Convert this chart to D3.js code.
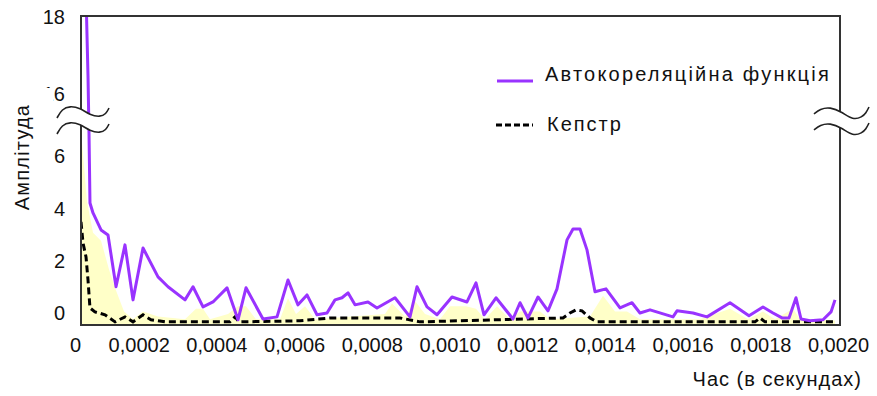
<!DOCTYPE html>
<html>
<head>
<meta charset="utf-8">
<script src="https://cdn.jsdelivr.net/npm/d3@7"></script>
<style>
  body { margin: 0; background: #fff; }
  svg text { font-family: "Liberation Sans", Arial, sans-serif; fill: #111; }
</style>
</head>
<body>
<div id="chart"></div>
<script>
// Autocorrelation function (purple line), time in seconds
var acfTime = [0.0000644, 0.0000695, 0.0000721, 0.0000746, 0.0000824, 0.000103, 0.000121, 0.0001416,
  0.0001647, 0.0001853, 0.0002111, 0.0002497, 0.0002754, 0.0003192, 0.0003398, 0.0003655, 0.0003912,
  0.0004273, 0.0004556, 0.0004762, 0.0005199, 0.000556, 0.0005843, 0.00061, 0.0006332, 0.0006589,
  0.0006847, 0.0007053, 0.0007233, 0.0007387, 0.0007568, 0.0007902, 0.0008134, 0.0008597, 0.0008983,
  0.0009163, 0.0009421, 0.0009678, 0.0010064, 0.001045, 0.0010682, 0.0010888, 0.0011197, 0.0011634,
  0.0011815, 0.001202, 0.0012278, 0.0012535, 0.0012767, 0.0013025, 0.0013179, 0.0013359, 0.0013539,
  0.0013745, 0.0014028, 0.0014389, 0.0014698, 0.0014903, 0.0015161, 0.0015753, 0.0015856, 0.0016268,
  0.0016628, 0.001722, 0.0017709, 0.0018069, 0.0018327, 0.0018559, 0.0018739, 0.0018919, 0.0019048,
  0.0019279, 0.0019614, 0.001982, 0.0019923];
var acfValue = [18.6, 16.5, 7.2, 4.54, 4.16, 3.51, 3.32, 1.34,
  2.94, 0.84, 2.82, 1.72, 1.34, 0.84, 1.34, 0.57, 0.76,
  1.30, 0.08, 1.30, 0.11, 0.19, 1.60, 0.65, 1.03, 0.27,
  0.34, 0.84, 0.92, 1.11, 0.65, 0.76, 0.53, 0.92, 0.19,
  1.34, 0.57, 0.27, 0.95, 0.76, 1.49, 0.27, 0.92, 0.11,
  0.73, 0.15, 0.95, 0.42, 1.26, 3.13, 3.55, 3.55, 2.75,
  1.15, 1.26, 0.53, 0.73, 0.34, 0.46, 0.19, 0.42, 0.34,
  0.19, 0.73, 0.23, 0.57, 0.34, 0.15, 0.15, 0.92, 0.11,
  0.04, 0.08, 0.38, 0.84];

// Cepstrum (black dashed line)
var cepTime = [0.0000515, 0.0000566, 0.0000644, 0.0000695, 0.0000746, 0.0000875, 0.0001133, 0.000139,
  0.0001647, 0.0001853, 0.0002111, 0.0002317, 0.0002677, 0.000435, 0.0004479, 0.0004582, 0.0006152,
  0.0006924, 0.0008726, 0.0009241, 0.0012921, 0.0013102, 0.0013256, 0.0013411, 0.0013616, 0.0013797,
  0.0017864, 0.0017992, 0.0018121, 0.0019923];
var cepValue = [3.82, 3.02, 2.48, 1.60, 0.53, 0.38, 0.27, 0.0,
  0.19, 0.0, 0.27, 0.08, 0.0, 0.0, 0.19, 0.0, 0.04,
  0.15, 0.15, 0.0, 0.15, 0.34, 0.46, 0.42, 0.15, 0.0,
  0.0, 0.15, 0.0, 0.0];

// pale yellow background series
var fillTime = [0.0000515, 0.0000669, 0.0000824, 0.000103, 0.0001236, 0.0001416, 0.0001622, 0.0001853,
  0.0002111, 0.0002497, 0.0003192, 0.0003475, 0.0003655, 0.0003835, 0.0004299, 0.0004556, 0.0004762,
  0.0005019, 0.0005637, 0.0005843, 0.0006049, 0.0006281, 0.0006538, 0.000834, 0.000852, 0.0008855,
  0.0009112, 0.0009369, 0.0009755, 0.0010013, 0.0010425, 0.0010682, 0.0010914, 0.0011223, 0.0011557,
  0.0011815, 0.001233, 0.0012587, 0.0013616, 0.0013951, 0.001426, 0.0014569, 0.0014903, 0.0016448,
  0.001722, 0.0017683, 0.0018069, 0.0018378, 0.0018842, 0.0019022, 0.0019923];
var fillValue = [7.3, 4.6, 3.4, 3.1, 2.0, 1.2, 0.4, 0.1,
  0.4, 0.2, 0.1, 0.5, 0.5, 0.1, 0.3, 0.6, 0.6,
  0.1, 0.1, 0.9, 0.3, 0.6, 0.1, 0.3, 0.7, 0.2,
  0.8, 0.3, 0.1, 0.6, 0.6, 0.5, 0.1, 0.6, 0.1,
  0.4, 0.4, 0.1, 0.2, 1.0, 0.4, 0.4, 0.1, 0.1,
  0.5, 0.1, 0.4, 0.1, 0.5, 0.1, 0.05];

var xTicks = [0, 0.0002, 0.0004, 0.0006, 0.0008, 0.0010, 0.0012, 0.0014, 0.0016, 0.0018, 0.0020];
var yTicks = [0, 2, 4, 6, 16, 18];
var seriesNames = ["Автокореляційна функція", "Кепстр"];
var xTitle = "Час (в секундах)";
var yTitle = "Амплітуда";

// Chart size and plot box
var width = 877, height = 396;
var box = { left: 81, right: 840, top: 16, bottom: 325 };

var svg = d3.select("#chart")
  .append("svg")
  .attr("width", width)
  .attr("height", height);

// x: linear seconds; y: broken axis (lower 0..7, upper 16..18)
var x = d3.scaleLinear().domain([0, 0.002]).range([61, 838]);
var y = d3.scaleLinear()
  .domain([-0.12, 7.45, 15.6, 18.05])
  .range([325, 126.8, 110.4, 16]);

svg.append("clipPath").attr("id", "plotclip")
  .append("rect")
  .attr("x", box.left).attr("y", box.top)
  .attr("width", box.right - box.left).attr("height", box.bottom - box.top);

var plot = svg.append("g").attr("clip-path", "url(#plotclip)");

// yellow area
var area = d3.area()
  .x(function (d) { return x(d[0]); })
  .y0(y(-0.12))
  .y1(function (d) { return y(d[1]); });
plot.append("path")
  .datum(d3.zip(fillTime, fillValue))
  .attr("fill", "#ffffc8")
  .attr("d", area);

var line = d3.line()
  .x(function (d) { return x(d[0]); })
  .y(function (d) { return y(d[1]); });

// cepstrum
plot.append("path")
  .datum(d3.zip(cepTime, cepValue))
  .attr("fill", "none")
  .attr("stroke", "#000")
  .attr("stroke-width", 3)
  .attr("stroke-dasharray", "7,4")
  .attr("d", line);

// autocorrelation
plot.append("path")
  .datum(d3.zip(acfTime, acfValue))
  .attr("fill", "none")
  .attr("stroke", "#9933ff")
  .attr("stroke-width", 3)
  .attr("stroke-linejoin", "round")
  .attr("d", line);

// frame
var frame = svg.append("g").attr("stroke", "#333").attr("stroke-width", 2).attr("fill", "none");
frame.append("path").attr("d",
  "M" + box.left + "," + box.bottom + "V" + box.top + "H" + box.right + "V" + box.bottom + "Z");

// axes
var xAxis = svg.append("g")
  .attr("transform", "translate(0," + box.bottom + ")")
  .call(d3.axisBottom(x)
    .tickValues(xTicks)
    .tickSize(0)
    .tickPadding(13)
    .tickFormat(function (d) { return d === 0 ? "0" : d3.format(".4f")(d).replace(".", ","); }));
xAxis.select(".domain").remove();
xAxis.selectAll("text").attr("font-size", 20).attr("fill", "#111");
xAxis.selectAll(".tick").filter(function (d) { return d === 0; })
  .select("text").attr("dx", 14);

var yAxis = svg.append("g")
  .attr("transform", "translate(" + box.left + ",0)")
  .call(d3.axisLeft(y).tickValues(yTicks).tickSize(0).tickPadding(16));
yAxis.select(".domain").remove();
yAxis.selectAll("text").attr("font-size", 20).attr("fill", "#111")
  .attr("dy", function (d) { return d < 10 ? "-0.1em" : "0.28em"; });

// axis break symbols
var wave = d3.line().curve(d3.curveBasis);
function breakMark(pts, shift) {
  var top = pts;
  var bottom = pts.map(function (p) { return [p[0], p[1] + shift]; });
  svg.append("path")
    .attr("d", wave(top.concat(bottom.slice().reverse())))
    .attr("fill", "#fff");
  svg.append("path").attr("d", wave(top))
    .attr("fill", "none").attr("stroke", "#222").attr("stroke-width", 1.6);
  svg.append("path").attr("d", wave(bottom))
    .attr("fill", "none").attr("stroke", "#222").attr("stroke-width", 1.6);
}
breakMark([[57, 118], [62, 109], [70, 106], [80, 108], [90, 115], [100, 117], [106, 114], [109, 108]], 16);
breakMark([[814, 114], [820, 109], [830, 107], [842, 112], [853, 120], [862, 117], [866, 113], [869, 107]], 16);

// hide most of the "1" in 16 (as in the original)
svg.append("rect").attr("x", 42).attr("y", 88).attr("width", 11).attr("height", 14).attr("fill", "#fff");

// legend
var legend = svg.append("g");
legend.append("line")
  .attr("x1", 497).attr("x2", 533).attr("y1", 81).attr("y2", 81)
  .attr("stroke", "#9933ff").attr("stroke-width", 3);
legend.append("text").attr("x", 545).attr("y", 81)
  .attr("font-size", 20).attr("letter-spacing", "2.2px").text(seriesNames[0]);
legend.append("line")
  .attr("x1", 496).attr("x2", 533).attr("y1", 125).attr("y2", 125)
  .attr("stroke", "#000").attr("stroke-width", 3).attr("stroke-dasharray", "6,3");
legend.append("text").attr("x", 547).attr("y", 131)
  .attr("font-size", 20).attr("letter-spacing", "2px").text(seriesNames[1]);

// axis titles
svg.append("text")
  .attr("transform", "translate(29,157) rotate(-90)")
  .attr("text-anchor", "middle")
  .attr("font-size", 20)
  .attr("letter-spacing", "1.2px")
  .text(yTitle);
svg.append("text")
  .attr("x", 862).attr("y", 386)
  .attr("text-anchor", "end")
  .attr("font-size", 20)
  .attr("letter-spacing", "1px")
  .text(xTitle);
</script>
</body>
</html>
